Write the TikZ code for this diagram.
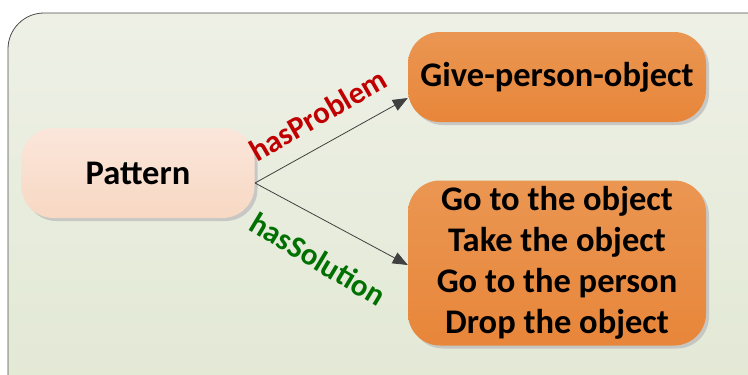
\documentclass[tikz,border=0pt]{standalone}
\usepackage{fontspec}
\setmainfont{Carlito}
\usetikzlibrary{arrows.meta,shadows}
\definecolor{bgtop}{HTML}{EEF0E6}
\definecolor{bgbot}{HTML}{E1E8D3}
\definecolor{pattop}{HTML}{FBE6DB}
\definecolor{patbot}{HTML}{F7D8C3}
\definecolor{ortop}{HTML}{EA9652}
\definecolor{orbot}{HTML}{E8863A}
\definecolor{probred}{HTML}{C00000}
\definecolor{solgreen}{HTML}{007000}
\definecolor{arrowgray}{HTML}{404040}
\tikzset{
  pill/.style={rounded corners=32pt, minimum height=90pt, align=center,
    font=\bfseries\fontsize{34.5}{41}\selectfont,
    drop shadow={shadow xshift=3pt, shadow yshift=-3pt, fill=black!25, opacity=0.8}},
  lightpill/.style={pill, top color=pattop, bottom color=patbot},
  orangepill/.style={pill, top color=ortop, bottom color=orbot},
  relation/.style={draw=arrowgray, line width=0.8pt, -{Triangle[length=15pt,width=12pt]}},
  rellabel/.style={font=\bfseries\fontsize{31}{34}\selectfont}
}
\begin{document}
\begin{tikzpicture}[x=1pt,y=-1pt]
  \useasboundingbox (0,0) rectangle (748,375);
  % framed background panel
  \draw[draw=black!70, line width=0.8pt, rounded corners=36pt, top color=bgtop, bottom color=bgbot]
    (8,13) rectangle (790,420);
  \node[lightpill, minimum width=233pt] (pattern) at (138,173) {Pattern};
  \node[orangepill, minimum width=298pt] (problem) at (557,77) {Give-person-object};
  \node[orangepill, minimum width=298pt, minimum height=165pt] (solution) at (557,263)
    {Go to the object\\Take the object\\Go to the person\\Drop the object};
  \coordinate (src) at (255,183);
  \draw[relation] (src) -- (problem.west |- 0,98);
  \draw[relation] (src) -- (solution.west |- 0,265);
  \node[rellabel, text=probred, rotate=30] (hp) at (318,115) {hasProblem};
  \node[rellabel, text=solgreen, rotate=-31] (hs) at (318,259) {hasSolution};
\end{tikzpicture}
\end{document}
